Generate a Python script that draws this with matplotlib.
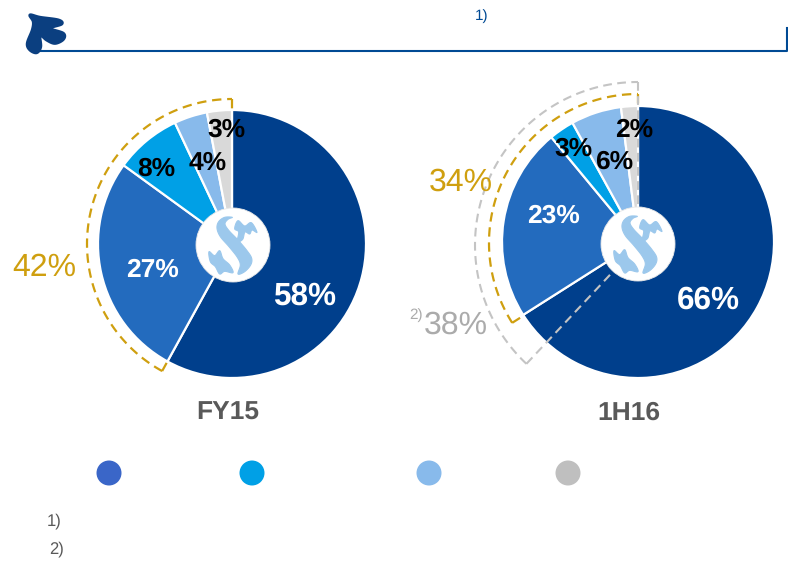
import numpy as np
import matplotlib
matplotlib.use('Agg')
import matplotlib.pyplot as plt
from matplotlib.patches import Circle, Polygon

plt.rcParams['font.family'] = ['Liberation Sans', 'DejaVu Sans']
plt.rcParams['text.hinting'] = 'no_hinting'

W, H = 788, 563

fy15_values = [58, 27, 8, 4, 3]
h116_values = [66, 23, 3, 6, 2]
fy15_bracket = 42
h116_bracket = 34
h116_grey_bracket = 38
slice_colors = ['#003F8C', '#236BBE', '#00A0E6', '#88BAEB', '#D9D9D9']
legend_colors = ['#3A66C8', '#00A0E6', '#88BAEB', '#BFBFBF']
legend_x = [109, 252, 429, 568]

GOLD = '#CF9F0F'
GREY = '#C4C4C4'
NAVY = '#004A94'
DASH = (0, (4.2, 2.6))

s_body = [(188, 52), (165, 52), (147, 65), (142, 85), (152, 110), (178, 140), (203, 172), (212, 195),
          (205, 222), (225, 215), (243, 195), (246, 175), (232, 152), (205, 120), (178, 92), (166, 72), (175, 58)]
s_top = [(205, 62), (225, 78), (245, 68), (262, 97), (247, 90), (240, 102), (226, 96), (219, 118),
         (203, 125), (207, 96), (195, 86)]
s_bottom = [(118, 155), (135, 167), (150, 152), (160, 176), (180, 195), (190, 218), (165, 214),
            (150, 222), (137, 200), (122, 185)]
corner_logo = [(90, 45), (120, 52), (175, 60), (185, 72), (150, 85), (190, 100), (190, 118), (165, 130),
               (140, 120), (120, 105), (122, 140), (110, 158), (90, 150), (82, 130), (97, 90), (100, 65)]


def yy(y):
    # reference is measured from the top of the image
    return H - y


def smooth(points, n=8):
    # closed catmull-rom through the traced outline
    p = np.array(points, dtype=float)
    out = []
    for i in range(len(p)):
        p0, p1, p2, p3 = p[i - 1], p[i], p[(i + 1) % len(p)], p[(i + 2) % len(p)]
        for t in np.linspace(0, 1, n, endpoint=False):
            out.append(0.5 * (2 * p1 + (p2 - p0) * t + (2 * p0 - 5 * p1 + 4 * p2 - p3) * t ** 2
                              + (3 * p1 - p0 - 3 * p2 + p3) * t ** 3))
    return np.array(out)


def draw_badge(ax, cx, cy):
    ax.add_patch(Circle((cx, yy(cy)), 37, fc='white', ec='#E8E8E8', lw=0.6, zorder=5))
    for shape in [s_body, s_top, s_bottom]:
        pts = smooth(shape)
        pts = np.c_[cx + (pts[:, 0] - 190) / 3, yy(cy + (pts[:, 1] - 135) / 3)]
        ax.add_patch(Polygon(pts, closed=True, fc='#9CC8EC', ec='#9CC8EC', lw=0.8, joinstyle='round', zorder=6))


def draw_bracket(ax, cx, cy, r, share, inner, color, lw):
    # dashed arc running counter-clockwise from 12 o'clock over the given share
    a = np.linspace(0, share / 100 * 2 * np.pi, 120)
    xs = cx - r * np.sin(a)
    ys = yy(cy) + r * np.cos(a)
    ax.plot(xs[::-1], ys[::-1], color=color, lw=lw, ls=DASH, zorder=3)
    ax.plot([cx, cx], [yy(cy) + r, yy(cy) + inner], color=color, lw=lw, ls=DASH, zorder=3)
    ax.plot([xs[-1], cx - inner * np.sin(a[-1])], [ys[-1], yy(cy) + inner * np.cos(a[-1])],
            color=color, lw=lw, ls=DASH, zorder=4)


fig = plt.figure(figsize=(W / 100, H / 100), dpi=100)
ax = fig.add_axes([0, 0, 1, 1])

ax.pie(fy15_values, colors=slice_colors, startangle=90, counterclock=False, center=(232, yy(244)), radius=134,
       wedgeprops={'edgecolor': 'white', 'linewidth': 1.6}, frame=True)
ax.pie(h116_values, colors=slice_colors, startangle=90, counterclock=False, center=(638, yy(242)), radius=136,
       wedgeprops={'edgecolor': 'white', 'linewidth': 1.6}, frame=True)

draw_bracket(ax, 232, 244, 145, fy15_bracket, 135, GOLD, 1.6)
draw_bracket(ax, 638, 243, 149, h116_bracket, 135, GOLD, 1.6)
# grey one runs in from the outer corner all the way to the badge
draw_bracket(ax, 638, 245, 163, h116_grey_bracket, 38, GREY, 1.5)

draw_badge(ax, 233, 245)
draw_badge(ax, 638, 244)

# header
ax.plot([40, 787, 787], [yy(51), yy(51), yy(28)], color=NAVY, lw=1.5, zorder=2)
logo = smooth(corner_logo)
ax.add_patch(Polygon(np.c_[logo[:, 0] / 3, yy(logo[:, 1] / 3)], closed=True, fc='#0B3F80', ec='#0B3F80',
                     lw=2.2, joinstyle='round', zorder=3))
ax.text(482, yy(16), '1)', color=NAVY, fontsize=11, ha='center', va='center')

# slice labels
fy15_pos = [(305, 296.5, 22.7, 'white'), (152, 270, 19, 'white'), (156, 169, 19, 'black'),
            (208, 163, 19, 'black'), (226, 130, 19, 'black')]
h116_pos = [(708, 300.5, 22.7, 'white'), (553, 216, 19, 'white'), (573, 149, 19, 'black'),
            (614, 162, 19, 'black'), (634, 130, 19, 'black')]
for values, positions in [(fy15_values, fy15_pos), (h116_values, h116_pos)]:
    for v, (x, y, size, color) in zip(values, positions):
        ax.text(x, yy(y), f'{v}%', color=color, fontsize=size, fontweight='bold', ha='center', va='center', zorder=7)

ax.text(44, yy(267.5), f'{fy15_bracket}%', color=GOLD, fontsize=23, ha='center', va='center', zorder=7)
ax.text(461, yy(182.5), f'{h116_bracket}%', color=GOLD, fontsize=23, ha='center', va='center', zorder=7)
ax.text(456, yy(325.5), f'{h116_grey_bracket}%', color='#ABABAB', fontsize=23, ha='center', va='center', zorder=7)
ax.text(416, yy(315), '2)', color='#ABABAB', fontsize=11, ha='center', va='center', zorder=7)

ax.text(228, yy(413), 'FY15', color='#595959', fontsize=19, fontweight='bold', ha='center', va='center')
ax.text(629, yy(413), '1H16', color='#595959', fontsize=19, fontweight='bold', ha='center', va='center')

# legend dots, labels were blank in the source
for x, color in zip(legend_x, legend_colors):
    ax.add_patch(Circle((x, yy(473)), 12.5, fc=color, ec='none'))

ax.text(54, yy(521), '1)', color='#595959', fontsize=12, ha='center', va='center')
ax.text(57, yy(549), '2)', color='#595959', fontsize=12, ha='center', va='center')

ax.set_xlim(0, W)
ax.set_ylim(0, H)
ax.set_aspect('auto')
ax.axis('off')

fig.savefig('out.png', dpi=100)
